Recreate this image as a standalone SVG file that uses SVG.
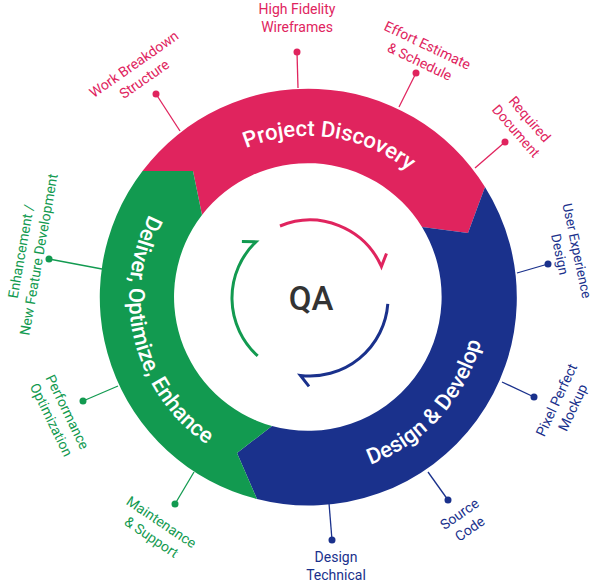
<svg xmlns="http://www.w3.org/2000/svg" width="594" height="583" viewBox="0 0 594 583">
<style>
.lbl{font-family:Roboto,"Liberation Sans",sans-serif;font-size:14px;text-anchor:middle}
.r{fill:#E0245E}.b{fill:#1A318C}.g{fill:#129A50}
.seg{font-family:Roboto,"Liberation Sans",sans-serif;font-size:22px;font-weight:500;fill:#fff;text-anchor:middle}
.ln{stroke-width:1.3;fill:none}
.arr{fill:none;stroke-width:3;stroke-linecap:butt}
</style>
<defs>
<path id="pPD" d="M146.6,274.3 A163,163 0 0 1 469.4,319.7"/>
<path id="pDD" d="M188.2,430 A179,179 0 0 0 427.8,164"/>
<path id="pDO" d="M264.7,123.3 A179,179 0 0 0 351.3,470.7"/>
</defs>
<rect width="594" height="583" fill="#fff"/>
<g id="ring">
<g id="seg-discovery">
<path fill="#E0245E" d="M142.5,171 A208,208 0 0 1 485,187 L468,233 L422,227 A134,134 0 0 0 202,215 L193,171 Z"/>
<text class="seg"><textPath href="#pPD" startOffset="50%">Project Discovery</textPath></text>
</g>
<g id="seg-design">
<path fill="#1A318C" d="M485,187 A208,208 0 0 1 257,499 L237,453 L272,426 A134,134 0 0 0 422,227 L468,233 Z"/>
<text class="seg"><textPath href="#pDD" startOffset="50%">Design &amp; Develop</textPath></text>
</g>
<g id="seg-deliver">
<path fill="#129A50" d="M257,499 A208,208 0 0 1 142.5,171 L193,171 L202,215 A134,134 0 0 0 272,426 L237,453 Z"/>
<text class="seg"><textPath href="#pDO" startOffset="50%">Deliver, Optimize, Enhance</textPath></text>
</g>
</g>
<g id="qa">
<path class="arr" stroke="#E0245E" d="M280,226 A78,78 0 0 1 381.4,266.5 L386.5,253.5"/>
<path class="arr" stroke="#1A318C" d="M387.8,303.8 A78,78 0 0 1 300.4,375.4 L309,386.4"/>
<path class="arr" stroke="#129A50" d="M257.7,355.9 A78,78 0 0 1 255.9,241.8 L241.9,241.5"/>
<text x="311" y="310" font-family="Roboto,'Liberation Sans',sans-serif" font-size="33" font-weight="500" fill="#333" text-anchor="middle">QA</text>
</g>
<g id="connectors">
<g stroke="#E0245E" class="ln">
<line x1="156" y1="94" x2="180" y2="131"/>
<line x1="297" y1="52" x2="298" y2="88"/>
<line x1="416" y1="73" x2="399" y2="107"/>
<line x1="505" y1="142" x2="475" y2="168"/>
</g>
<g fill="#E0245E">
<circle cx="156" cy="94" r="3.5"/><circle cx="297" cy="52" r="3.5"/><circle cx="416" cy="73" r="3.5"/><circle cx="505" cy="142" r="3.5"/>
</g>
<g stroke="#1A318C" class="ln">
<line x1="548" y1="264" x2="517" y2="273"/>
<line x1="534" y1="397" x2="502" y2="382"/>
<line x1="448" y1="500" x2="428" y2="472"/>
<line x1="332" y1="540" x2="329" y2="503"/>
</g>
<g fill="#1A318C">
<circle cx="548" cy="264" r="3.5"/><circle cx="534" cy="397" r="3.5"/><circle cx="448" cy="500" r="3.5"/><circle cx="332" cy="540" r="3.5"/>
</g>
<g stroke="#129A50" class="ln">
<line x1="175" y1="504" x2="194" y2="472"/>
<line x1="83" y1="401" x2="118" y2="386"/>
<line x1="49" y1="259" x2="102" y2="269"/>
</g>
<g fill="#129A50">
<circle cx="175" cy="504" r="3.5"/><circle cx="83" cy="401" r="3.5"/><circle cx="49" cy="259" r="3.5"/>
</g>
</g>
<g id="labels">
<g id="l-wbs"><text class="lbl r" transform="translate(139,71.5) rotate(-35)"><tspan x="0" y="-4">Work Breakdown</tspan><tspan x="0" y="14">Structure</tspan></text></g>
<g id="l-hfw"><text class="lbl r" transform="translate(297,17.5)"><tspan x="0" y="-4">High Fidelity</tspan><tspan x="0" y="14">Wireframes</tspan></text></g>
<g id="l-effort"><text class="lbl r" transform="translate(423.7,53.3) rotate(25.5)"><tspan x="0" y="-4">Effort Estimate</tspan><tspan x="0" y="14">&amp; Schedule</tspan></text></g>
<g id="l-req"><text class="lbl r" transform="translate(523,125) rotate(49)"><tspan x="0" y="-4">Required</tspan><tspan x="0" y="14">Document</tspan></text></g>
<g id="l-ux"><text class="lbl b" font-size="13.5" style="font-size:13.5px" transform="translate(568.5,252.5) rotate(78)"><tspan x="0" y="-4">User Experience</tspan><tspan x="0" y="13.5">Design</tspan></text></g>
<g id="l-pixel"><text class="lbl b" transform="translate(564.5,403.7) rotate(-65)"><tspan x="0" y="-4">Pixel Perfect</tspan><tspan x="0" y="14">Mockup</tspan></text></g>
<g id="l-source"><text class="lbl b" transform="translate(464.5,521.2) rotate(-35)"><tspan x="0" y="-4">Source</tspan><tspan x="0" y="14">Code</tspan></text></g>
<g id="l-dt"><text class="lbl b" transform="translate(336,566)"><tspan x="0" y="-4">Design</tspan><tspan x="0" y="14">Technical</tspan></text></g>
<g id="l-maint"><text class="lbl g" transform="translate(156.5,529.5) rotate(34)"><tspan x="0" y="-4">Maintenance</tspan><tspan x="0" y="14">&amp; Support</tspan></text></g>
<g id="l-perf"><text class="lbl g" transform="translate(59.5,415.8) rotate(64)"><tspan x="0" y="-4">Performance</tspan><tspan x="0" y="14">Optimization</tspan></text></g>
<g id="l-enh"><text class="lbl g" transform="translate(29.7,253) rotate(-80)"><tspan x="0" y="-4">Enhancement /</tspan><tspan x="0" y="14">New Feature Development</tspan></text></g>
</g>
</svg>
